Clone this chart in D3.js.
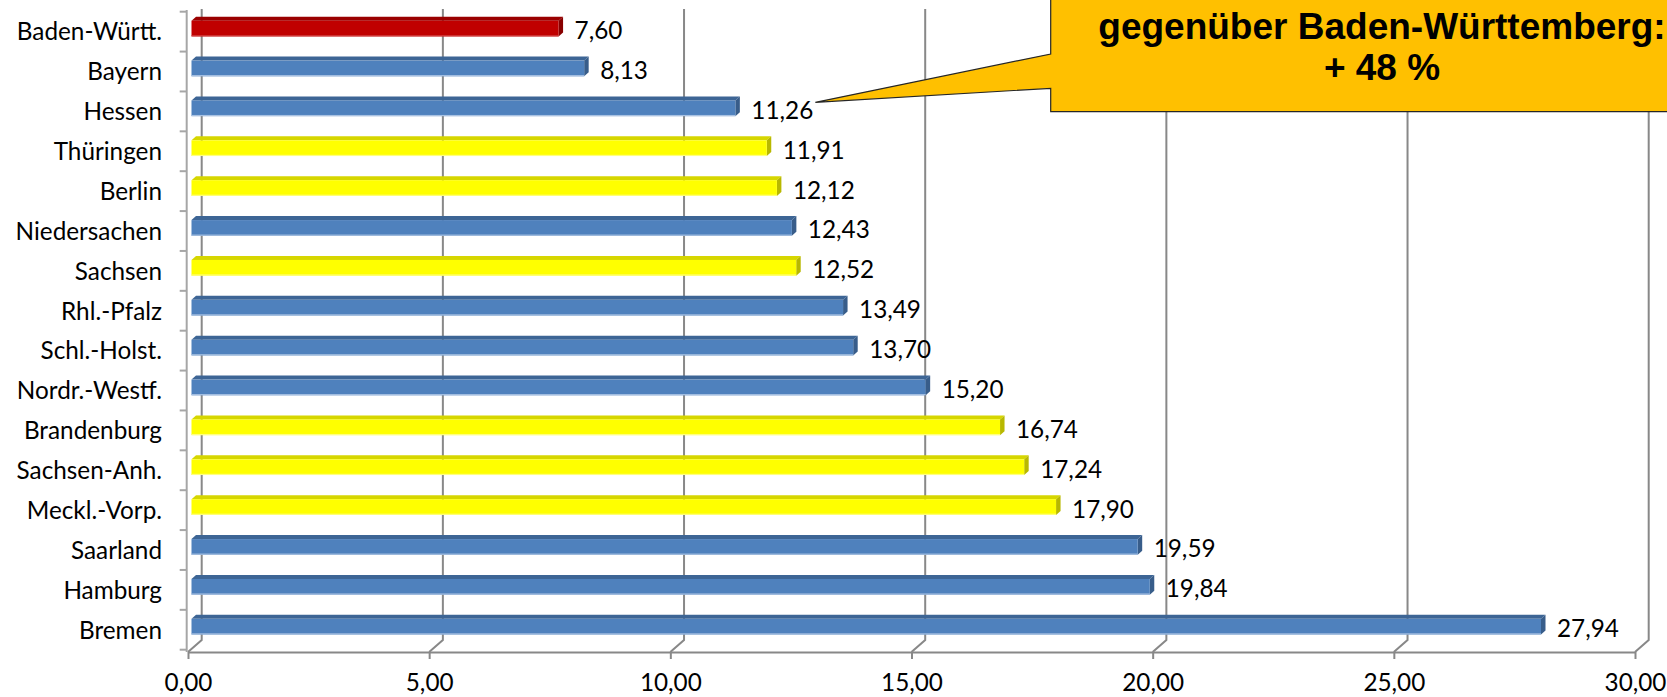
<!DOCTYPE html>
<html>
<head>
<meta charset="utf-8">
<script src="https://cdn.jsdelivr.net/npm/d3@7"></script>
<style>
  html, body { margin: 0; padding: 0; background: #ffffff; overflow: hidden; }
  svg { display: block; }
</style>
</head>
<body>
<svg id="chart" width="1667" height="697"></svg>
<script>
// ---- data ----
const categories = ["Baden-Württ.", "Bayern", "Hessen", "Thüringen", "Berlin", "Niedersachen",
  "Sachsen", "Rhl.-Pfalz", "Schl.-Holst.", "Nordr.-Westf.", "Brandenburg", "Sachsen-Anh.",
  "Meckl.-Vorp.", "Saarland", "Hamburg", "Bremen"];
const values = [7.60, 8.13, 11.26, 11.91, 12.12, 12.43, 12.52, 13.49, 13.70, 15.20, 16.74, 17.24,
  17.90, 19.59, 19.84, 27.94];
const groups = ["bw", "west", "west", "ost", "ost", "west", "ost", "west", "west", "west", "ost",
  "ost", "ost", "west", "west", "west"];
const tickValues = [0, 5, 10, 15, 20, 25, 30];
const calloutLines = ["gegenüber Baden-Württemberg:", "+ 48 %"];
const calloutTarget = "Hessen";

// ---- styles ----
const palette = {
  bw:   { face: "#C00000", top: "#9A0000", side: "#880000", low: "#D04040" },
  west: { face: "#4F81BD", top: "#3D6595", side: "#385D8A", low: "#A9C2E2" },
  ost:  { face: "#FFFF00", top: "#D6D600", side: "#B8B800", low: "#FFFF80" }
};
const gridColor = "#888888";
const wallColor = "#A6A6A6";
const labelFont = "Lato, 'Open Sans', sans-serif";
const labelSize = 24.3;

const svg = d3.select("#chart");

// ---- scales ----
const frontLeft = 188, frontRight = 1635;
const depthX = 13.7, depthY = 12;
const floorY = 652, wallTop = 9;
const xFront = d3.scaleLinear().domain([0, 30]).range([frontLeft, frontRight]);
const xBack = d3.scaleLinear().domain([0, 30]).range([frontLeft + depthX, frontRight + depthX]);
const xBar = d3.scaleLinear().domain([0, 30]).range([191.5, 191.5 + 30 * 48.3]);
const y = d3.scaleBand().domain(categories).range([11.7, 649.7]).paddingInner(0).paddingOuter(0);

const fmt = v => d3.format(".2f")(v).replace(".", ",");

// ---- back wall gridlines + floor diagonals ----
const grid = svg.append("g").attr("fill", "none").attr("stroke", gridColor).attr("stroke-width", 2);
tickValues.forEach(v => {
  grid.append("path")
    .attr("d", `M${xBack(v)},${wallTop} L${xBack(v)},${floorY - depthY} L${xFront(v)},${floorY}`);
});

// ---- left wall front edge with category ticks ----
const wall = svg.append("g").attr("stroke", wallColor).attr("stroke-width", 2).attr("fill", "none");
wall.append("line").attr("x1", 186.7).attr("x2", 186.7).attr("y1", 10).attr("y2", floorY);
const bounds = categories.map(c => y(c)).concat([y.range()[1]]);
wall.selectAll("line.tk").data(bounds).join("line").attr("class", "tk")
  .attr("x1", 179.7).attr("x2", 186.7).attr("y1", d => d).attr("y2", d => d);

// ---- bottom axis (front floor edge) ----
const xAxis = d3.axisBottom(xFront).tickValues(tickValues).tickFormat(fmt).tickSize(7).tickSizeOuter(0);
const gx = svg.append("g").attr("transform", `translate(0,${floorY})`).call(xAxis);
gx.select(".domain").attr("stroke", gridColor).attr("stroke-width", 2);
gx.selectAll(".tick line").attr("stroke", gridColor).attr("stroke-width", 2);
gx.selectAll(".tick text").attr("y", 39).attr("dy", 0)
  .attr("font-family", labelFont).attr("font-size", labelSize).attr("fill", "#000");

// ---- left axis (category labels) ----
const yAxis = d3.axisLeft(y).tickSize(0).tickPadding(0);
const gy = svg.append("g").attr("transform", "translate(162,0)").call(yAxis);
gy.select(".domain").remove();
gy.selectAll(".tick text").attr("font-family", labelFont).attr("font-size", labelSize)
  .attr("fill", "#000").attr("dy", "0.36em");

// ---- 3D bars ----
const bdx = 4.5, bdy = 4, faceOff = 9, faceH = 15.7;
const bars = svg.append("g");
categories.forEach((c, i) => {
  const p = palette[groups[i]];
  const x0 = xBar(0), x1 = xBar(values[i]);
  const t = y(c) + faceOff, b = t + faceH;
  const g = bars.append("g");
  g.append("path").attr("fill", p.top)
    .attr("d", `M${x0},${t} L${x0 + bdx},${t - bdy} L${x1 + bdx},${t - bdy} L${x1},${t} Z`);
  g.append("path").attr("fill", p.side)
    .attr("d", `M${x1},${t} L${x1 + bdx},${t - bdy} L${x1 + bdx},${b - bdy} L${x1},${b} Z`);
  g.append("rect").attr("x", x0).attr("y", t).attr("width", x1 - x0).attr("height", faceH).attr("fill", p.face);
  g.append("rect").attr("x", x0).attr("y", b - 1.2).attr("width", x1 - x0).attr("height", 1.2).attr("fill", p.low);
  // value label
  svg.append("text")
    .attr("x", x1 + 16).attr("y", t + faceH / 2 + 1)
    .attr("dominant-baseline", "central")
    .attr("font-family", labelFont).attr("font-size", labelSize).attr("fill", "#000")
    .text(fmt(values[i]));
});

// ---- callout ----
const ti = categories.indexOf(calloutTarget);
const tipX = xBar(values[ti]) + 16 + 64, tipY = y(calloutTarget) + faceOff + faceH / 2 - 6;
const boxL = 1050.7, boxB = 111.7, boxT = -60, boxR = 1700;
svg.append("path")
  .attr("d", `M${boxL},${boxT} L${boxL},54 L${tipX},${tipY} L${boxL},88.3 L${boxL},${boxB} L${boxR},${boxB} L${boxR},${boxT} Z`)
  .attr("fill", "#FFC000").attr("stroke", "#262626").attr("stroke-width", 1.2);
const ct = svg.append("g").attr("font-family", "'Liberation Sans', Arial, sans-serif")
  .attr("font-weight", "bold").attr("font-size", 37).attr("text-anchor", "middle").attr("fill", "#000");
const baselines = [39, 80];
calloutLines.forEach((l, i) => {
  ct.append("text").attr("x", 1382).attr("y", baselines[i]).text(l);
});
</script>
</body>
</html>
